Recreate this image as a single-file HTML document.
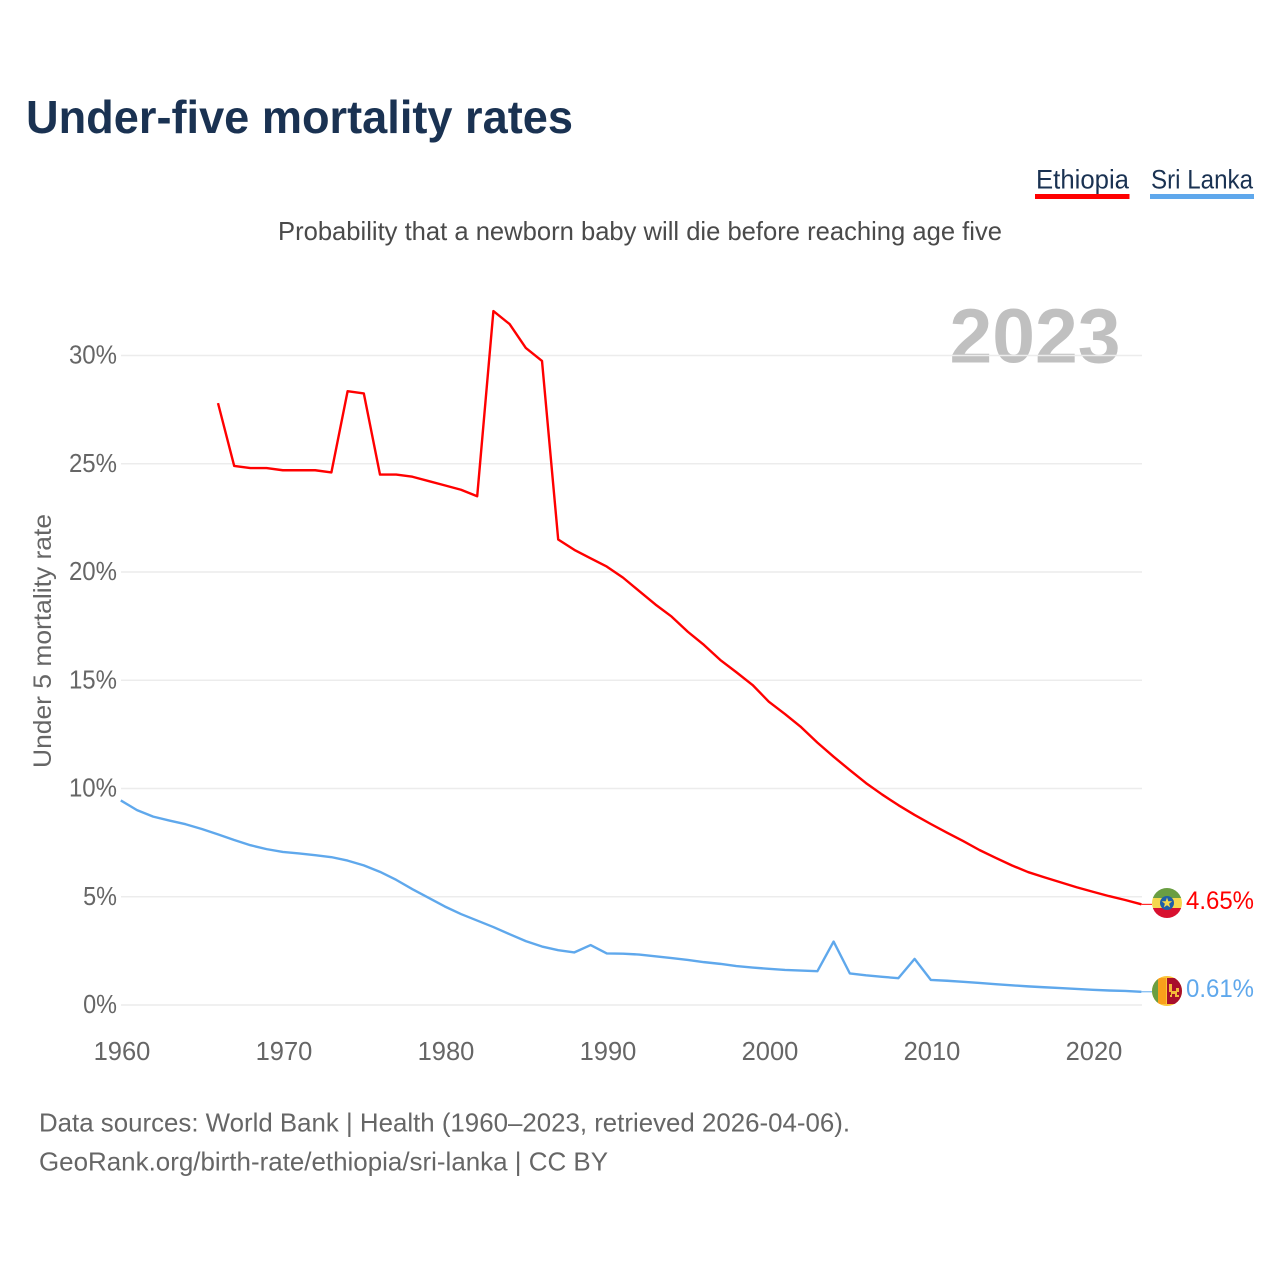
<!DOCTYPE html>
<html lang="en">
<head>
<meta charset="utf-8">
<title>Under-five mortality rates</title>
<style>
html,body{margin:0;padding:0;background:#fff;width:1280px;height:1280px;overflow:hidden}
svg{display:block}
text{font-family:"Liberation Sans",sans-serif}
</style>
</head>
<body>
<svg id="chart" xmlns="http://www.w3.org/2000/svg" width="1280" height="1280" viewBox="0 0 1280 1280">
  <defs>
    <clipPath id="flag-clip-et"><circle cx="1167" cy="903" r="15"/></clipPath>
    <clipPath id="flag-clip-lk"><circle cx="1167" cy="991" r="15"/></clipPath>
  </defs>
  <rect width="1280" height="1280" fill="#fff"/>
  <text x="26" y="133" font-size="46" font-weight="700" fill="#1a3252" textLength="547" lengthAdjust="spacingAndGlyphs">Under-five mortality rates</text>

  <g>
    <text x="1036" y="188.500" font-size="26.500" fill="#1a3252" textLength="93" lengthAdjust="spacingAndGlyphs">Ethiopia</text>
    <rect x="1035" y="194" width="94.500" height="5" fill="#ff0000"/>
  </g>
  <g>
    <text x="1151" y="188.500" font-size="26.500" fill="#1a3252" textLength="102" lengthAdjust="spacingAndGlyphs">Sri Lanka</text>
    <rect x="1150" y="194" width="104" height="5" fill="#5fa8ec"/>
  </g>

  <text x="278" y="240" font-size="26" fill="#4a4a4a" textLength="724" lengthAdjust="spacingAndGlyphs">Probability that a newborn baby will die before reaching age five</text>

  <text x="1120.500" y="362.500" font-size="77" font-weight="700" fill="#c0c0c0" text-anchor="end" textLength="171" lengthAdjust="spacingAndGlyphs">2023</text>

  <g id="grid"></g>
  <g id="y-ticks"></g>
  <g id="x-ticks"></g>

  <text transform="translate(51,641) rotate(-90)" font-size="25" fill="#666" text-anchor="middle" textLength="254" lengthAdjust="spacingAndGlyphs">Under 5 mortality rate</text>

  <g id="series"></g>

  <g clip-path="url(#flag-clip-et)">
    <rect x="1152" y="888" width="30" height="10" fill="#6a9e42"/>
    <rect x="1152" y="898" width="30" height="10" fill="#f4d84e"/>
    <rect x="1152" y="908" width="30" height="10" fill="#d8102f"/>
    <circle cx="1167" cy="903" r="7" fill="#1f5fa8"/>
    <polygon points="1167,897.500 1168.300,901.200 1172.200,901.300 1169.100,903.700 1170.200,907.400 1167,905.200 1163.800,907.400 1164.900,903.700 1161.800,901.300 1165.700,901.200" fill="#f4d84e"/>
  </g>
  <g clip-path="url(#flag-clip-lk)">
    <rect x="1152" y="976" width="30" height="30" fill="#fbc53a"/>
    <rect x="1152" y="978" width="6" height="26" fill="#6a9e42"/>
    <rect x="1158" y="978" width="8" height="26" fill="#f9a01b"/>
    <rect x="1167" y="978" width="15" height="26" fill="#a80f2b"/>
    <path d="M1169 984h3v7h4v-3h3v4h-2v3h2v2h-4v-3h-3v3h-2v-2h1v-3h-2z" fill="#f4b93a"/>
  </g>

  <text x="1186" y="909" font-size="25" fill="#ff0000" textLength="68" lengthAdjust="spacingAndGlyphs">4.65%</text>
  <text x="1186" y="997" font-size="25" fill="#5fa8ec" textLength="68" lengthAdjust="spacingAndGlyphs">0.61%</text>

  <text x="39" y="1131.500" font-size="26" fill="#666" textLength="811" lengthAdjust="spacingAndGlyphs">Data sources: World Bank | Health (1960–2023, retrieved 2026-04-06).</text>
  <text x="39" y="1170.500" font-size="26" fill="#666" textLength="569" lengthAdjust="spacingAndGlyphs">GeoRank.org/birth-rate/ethiopia/sri-lanka | CC BY</text>
</svg>
<script>
const years = [1960,1961,1962,1963,1964,1965,1966,1967,1968,1969,1970,1971,1972,1973,1974,1975,1976,1977,1978,1979,1980,1981,1982,1983,1984,1985,1986,1987,1988,1989,1990,1991,1992,1993,1994,1995,1996,1997,1998,1999,2000,2001,2002,2003,2004,2005,2006,2007,2008,2009,2010,2011,2012,2013,2014,2015,2016,2017,2018,2019,2020,2021,2022,2023];
const ethiopia = [null,null,null,null,null,null,27.8,24.9,24.8,24.8,24.7,24.7,24.7,24.6,28.35,28.25,24.5,24.5,24.4,24.2,24.0,23.8,23.5,32.05,31.45,30.35,29.75,21.5,21.02,20.63,20.25,19.74,19.12,18.5,17.94,17.24,16.63,15.94,15.37,14.78,14.01,13.44,12.83,12.12,11.47,10.85,10.25,9.72,9.23,8.78,8.36,7.96,7.57,7.16,6.8,6.45,6.14,5.9,5.67,5.44,5.23,5.03,4.85,4.65];
const sriLanka = [9.45,9.0,8.7,8.52,8.35,8.13,7.88,7.62,7.38,7.2,7.07,7.0,6.92,6.83,6.67,6.45,6.15,5.78,5.35,4.95,4.55,4.2,3.9,3.6,3.27,2.95,2.7,2.53,2.43,2.77,2.38,2.37,2.33,2.25,2.17,2.08,1.98,1.9,1.8,1.73,1.67,1.62,1.59,1.56,2.93,1.46,1.37,1.3,1.24,2.13,1.16,1.12,1.07,1.02,0.96,0.91,0.86,0.82,0.78,0.74,0.7,0.67,0.65,0.61];
const yTickValues = [0,5,10,15,20,25,30];
const yTickLabels = ['0%','5%','10%','15%','20%','25%','30%'];
const xTickValues = [1960,1970,1980,1990,2000,2010,2020];
const xTickLabels = ['1960','1970','1980','1990','2000','2010','2020'];

const NS = 'http://www.w3.org/2000/svg';
function xScale(year){ return 120.8 + (year - 1960) * 16.2; }
function yScale(v){ return 1005 - v * 21.65; }
function make(tag, attrs, parent){
  const el = document.createElementNS(NS, tag);
  for (const k in attrs) el.setAttribute(k, attrs[k]);
  parent.appendChild(el);
  return el;
}
const grid = document.getElementById('grid');
const yTicks = document.getElementById('y-ticks');
const xTicks = document.getElementById('x-ticks');
const seriesGroup = document.getElementById('series');

yTickValues.forEach(function(v, i){
  const line = make('line', {x1:121, x2:1142, y1:yScale(v), y2:yScale(v), stroke:'#ececec', 'stroke-width':1.5}, grid);
  
  
  const label = make('text', {x:117, y:yScale(v)+8, 'font-size':25.5, fill:'#666', 'text-anchor':'end'}, yTicks);
  
  
  label.textContent = yTickLabels[i];
  label.setAttribute('lengthAdjust', 'spacingAndGlyphs');
  label.setAttribute('textLength', label.getComputedTextLength() - 3);
});
xTickValues.forEach(function(v, i){
  const label = make('text', {x:xScale(v) + 1.2, y:1060, 'font-size':25.5, fill:'#666', 'text-anchor':'middle'}, xTicks);
  
  
  label.textContent = xTickLabels[i];
});
function linePath(values){
  let d = '';
  values.forEach(function(v, i){
    if (v === null) return;
    d += (d ? 'L' : 'M') + xScale(years[i]).toFixed(2) + ' ' + yScale(v).toFixed(2);
  });
  return d;
}
const ethiopiaLine = make('path', {d:linePath(ethiopia), fill:'none', stroke:'#ff0000', 'stroke-width':2.4, 'stroke-linejoin':'round'}, seriesGroup);


const sriLankaLine = make('path', {d:linePath(sriLanka), fill:'none', stroke:'#5fa8ec', 'stroke-width':2.4, 'stroke-linejoin':'round'}, seriesGroup);



const lastIndex = years.length - 1;
const etConnector = make('line', {x1:xScale(years[lastIndex]), x2:1152, y1:yScale(ethiopia[lastIndex]), y2:yScale(ethiopia[lastIndex]), stroke:'#ff0000', 'stroke-width':1}, seriesGroup);


const lkConnector = make('line', {x1:xScale(years[lastIndex]), x2:1152, y1:yScale(sriLanka[lastIndex]), y2:yScale(sriLanka[lastIndex]), stroke:'#5fa8ec', 'stroke-width':1}, seriesGroup);


</script>
</body>
</html>
